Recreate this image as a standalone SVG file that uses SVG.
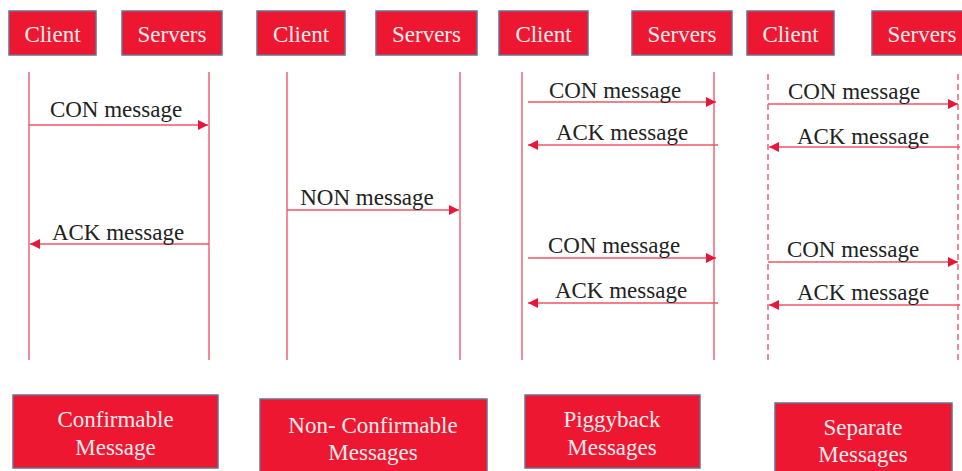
<svg xmlns="http://www.w3.org/2000/svg" width="962" height="471" viewBox="0 0 962 471" font-family="Liberation Serif, DejaVu Serif, serif">
<style>
.box{fill:#EE1731;stroke:#6E6F8C;stroke-width:1.5}
.bt{font-size:23px;fill:#FBECEC;text-anchor:middle}
.life{stroke:#EC6478;stroke-width:1.5;fill:none}
.dash{stroke:#EC6478;stroke-width:1.5;fill:none;stroke-dasharray:6 4}
.msg{stroke:#EE5569;stroke-width:1.5;fill:none;marker-end:url(#ah)}
.lt{font-size:23px;fill:#222;text-anchor:middle}
</style>
<defs>
<marker id="ah" viewBox="0 0 10 10" refX="10" refY="5" markerWidth="12" markerHeight="10" markerUnits="userSpaceOnUse" orient="auto">
<path d="M0,0 L10,5 L0,10 z" fill="#E8173A"/>
</marker>
</defs>
<rect width="962" height="471" fill="#fff"/>
<g id="client1"><rect class="box" x="9" y="11" width="87" height="44"/><text class="bt" x="52.5" y="42">Client</text></g>
<g id="servers1"><rect class="box" x="122" y="11" width="100" height="44"/><text class="bt" x="172" y="42">Servers</text></g>
<g id="client2"><rect class="box" x="257" y="11" width="88" height="44"/><text class="bt" x="301" y="42">Client</text></g>
<g id="servers2"><rect class="box" x="376" y="11" width="101" height="44"/><text class="bt" x="426.5" y="42">Servers</text></g>
<g id="client3"><rect class="box" x="499" y="11" width="89" height="44"/><text class="bt" x="543.5" y="42">Client</text></g>
<g id="servers3"><rect class="box" x="632" y="11" width="100" height="44"/><text class="bt" x="682" y="42">Servers</text></g>
<g id="client4"><rect class="box" x="747" y="11" width="87" height="44"/><text class="bt" x="790.5" y="42">Client</text></g>
<g id="servers4"><rect class="box" x="872" y="11" width="100" height="44"/><text class="bt" x="922" y="42">Servers</text></g>

<g id="lifelines">
<line class="life" x1="29" y1="72" x2="29" y2="360"/>
<line class="life" x1="209" y1="72" x2="209" y2="360"/>
<line class="life" x1="287" y1="72" x2="287" y2="360"/>
<line class="life" x1="460" y1="72" x2="460" y2="360"/>
<line class="life" x1="522" y1="72" x2="522" y2="360"/>
<line class="life" x1="714" y1="72" x2="714" y2="360"/>
<line class="dash" x1="768" y1="74" x2="768" y2="360"/>
<line class="dash" x1="958" y1="74" x2="958" y2="360"/>
</g>

<g id="connectors">
<line class="msg" x1="29" y1="125" x2="208" y2="125"/>
<line class="msg" x1="209" y1="244" x2="30" y2="244"/>
<line class="msg" x1="287" y1="210" x2="459" y2="210"/>
<line class="msg" x1="528" y1="102" x2="716" y2="102"/>
<line class="msg" x1="718" y1="145" x2="528" y2="145"/>
<line class="msg" x1="528" y1="258" x2="716" y2="258"/>
<line class="msg" x1="718" y1="303" x2="528" y2="303"/>
<line class="msg" x1="768" y1="104" x2="958" y2="104"/>
<line class="msg" x1="960" y1="147" x2="769" y2="147"/>
<line class="msg" x1="768" y1="262" x2="958" y2="262"/>
<line class="msg" x1="960" y1="305" x2="769" y2="305"/>
</g>

<g id="labels">
<text class="lt" x="116" y="117">CON message</text>
<text class="lt" x="118" y="240">ACK message</text>
<text class="lt" x="367" y="205">NON message</text>
<text class="lt" x="615" y="98">CON message</text>
<text class="lt" x="622" y="140">ACK message</text>
<text class="lt" x="614" y="253">CON message</text>
<text class="lt" x="621" y="298">ACK message</text>
<text class="lt" x="854" y="99">CON message</text>
<text class="lt" x="863" y="144">ACK message</text>
<text class="lt" x="853" y="257">CON message</text>
<text class="lt" x="863" y="300">ACK message</text>
</g>

<g id="confirmable"><rect class="box" x="13" y="395" width="205" height="73"/><text class="bt" x="115.5" y="427">Confirmable</text><text class="bt" x="115.5" y="455">Message</text></g>
<g id="nonconfirmable"><rect class="box" x="260" y="399" width="227" height="76"/><text class="bt" x="373" y="433">Non- Confirmable</text><text class="bt" x="373" y="460">Messages</text></g>
<g id="piggyback"><rect class="box" x="525" y="395" width="175" height="73"/><text class="bt" x="612" y="427">Piggyback</text><text class="bt" x="612" y="455">Messages</text></g>
<g id="separate"><rect class="box" x="775" y="403" width="177" height="72"/><text class="bt" x="863" y="435">Separate</text><text class="bt" x="863" y="462">Messages</text></g>
</svg>
